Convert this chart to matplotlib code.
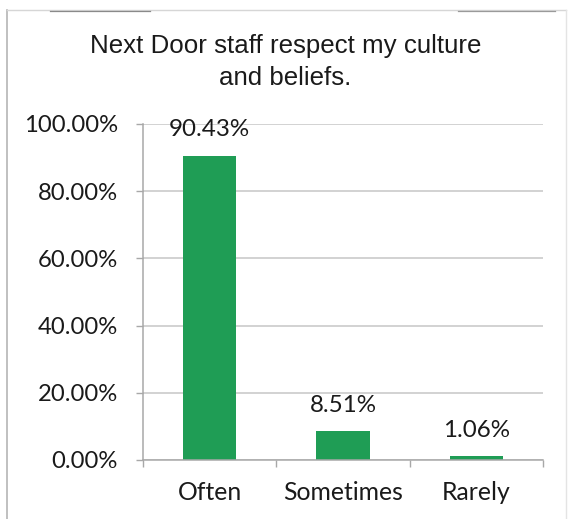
import matplotlib
matplotlib.use("Agg")
import matplotlib.pyplot as plt
from matplotlib.ticker import FuncFormatter, FixedLocator
from matplotlib.lines import Line2D

categories = ["Often", "Sometimes", "Rarely"]
shares = [90.43, 8.51, 1.06]
y_ticks = [0, 20, 40, 60, 80, 100]
title = "Next Door staff respect my culture\nand beliefs."

bar_color = "#1f9d55"
text_color = "#1a1a1a"
label_font = ["Lato", "DejaVu Sans"]

fig = plt.figure(figsize=(5.71, 5.19), dpi=100)
ax = fig.add_axes([143 / 571, 1 - 460 / 519, 400 / 571, 336 / 519])

x = range(len(categories))
ax.bar(x, shares, width=0.4, color=bar_color, zorder=3)
ax.set_xlim(-0.5, len(categories) - 0.5)
ax.set_ylim(0, 100)

ax.set_yticks(y_ticks)
ax.yaxis.set_major_formatter(FuncFormatter(lambda v, _: f"{v:.2f}%"))
ax.grid(axis="y", color="#cfcfcf", linewidth=1.3, zorder=0)
ax.tick_params(axis="y", length=5, width=1, color="#a8a8a8", pad=13,
               labelsize=17.2, labelcolor=text_color)

ax.set_xticks(list(x))
ax.set_xticklabels(categories)
ax.xaxis.set_minor_locator(FixedLocator([i - 0.5 for i in range(len(categories) + 1)]))
ax.tick_params(axis="x", which="major", length=0, pad=15, labelsize=17.8,
               labelcolor=text_color)
ax.tick_params(axis="x", which="minor", length=5, width=1, color="#a8a8a8")

for lbl in ax.get_xticklabels() + ax.get_yticklabels():
    lbl.set_family(label_font)

for side in ("top", "right"):
    ax.spines[side].set_visible(False)
for side in ("left", "bottom"):
    ax.spines[side].set_color("#a8a8a8")
    ax.spines[side].set_linewidth(1.1)
    ax.spines[side].set_zorder(4)

for xi, v in zip(x, shares):
    ax.annotate(f"{v:.2f}%", (xi, v), xytext=(0, 19), textcoords="offset points",
                ha="center", va="center", fontsize=17.4, color=text_color,
                family=label_font, zorder=5)

fig.text(0.5, 1 - 62 / 519, title, ha="center", va="center", fontsize=18.6,
         family=["Liberation Sans", "DejaVu Sans"], color=text_color,
         linespacing=1.42)

# outer frame
W, H = 571, 519
def fline(x0, y0, x1, y1, color="#c8c8c8", lw=1.0):
    fig.add_artist(Line2D([x0 / W, x1 / W], [1 - y0 / H, 1 - y1 / H],
                          color=color, linewidth=lw, transform=fig.transFigure))

fline(7, 10, 7, 519, color="#b5b5b5", lw=1.2)
fline(7, 10, 566, 10, color="#d6d6d6", lw=1.0)
fline(566, 10, 566, 519, color="#e4e4e4", lw=1.0)
fline(50, 11, 150, 11, color="#8a8a8a", lw=0.9)
fline(458, 11, 555, 11, color="#9a9a9a", lw=0.9)

fig.savefig("out.png", dpi=100, facecolor="white")
